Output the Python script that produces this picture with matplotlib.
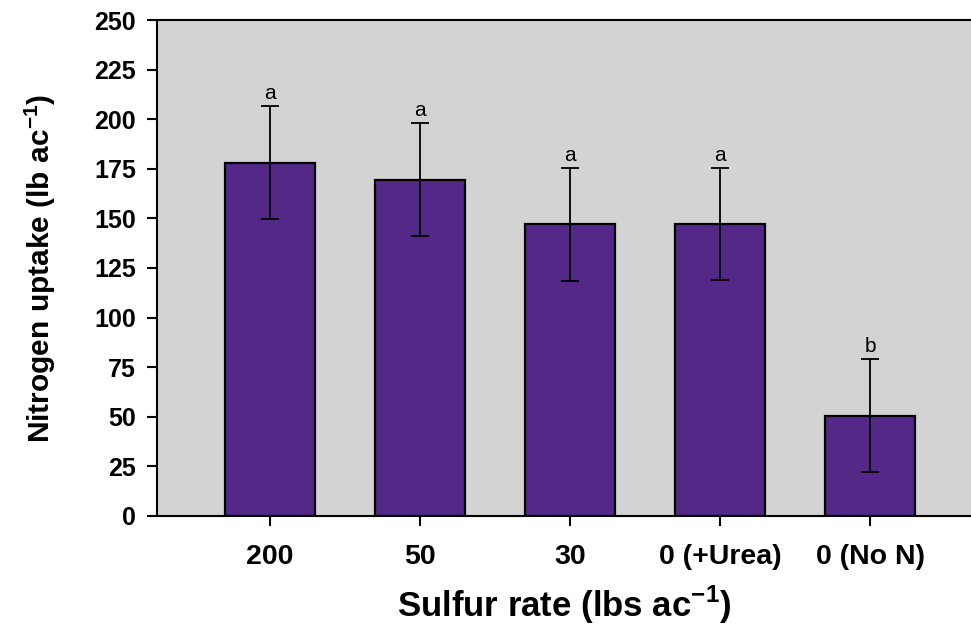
import matplotlib
matplotlib.use('Agg')
import matplotlib.pyplot as plt
import numpy as np

# data
categories = ['200', '50', '30', '0 (+Urea)', '0 (No N)']
uptake = [178, 169.5, 147, 147.2, 50.5]
errors = [28.5, 28.5, 28.5, 28.3, 28.5]
letters = ['a', 'a', 'a', 'a', 'b']

plt.rcParams['font.family'] = ['Liberation Sans', 'DejaVu Sans']
plt.rcParams['mathtext.fontset'] = 'custom'
plt.rcParams['mathtext.bf'] = 'Liberation Sans:bold'
plt.rcParams['mathtext.rm'] = 'Liberation Sans'

fig = plt.figure(figsize=(9.71, 6.29), dpi=100)
ax = fig.add_axes([0.1617, 0.1797, 0.8383, 0.7885])
ax.set_facecolor('#d3d3d3')

x = np.arange(len(categories))
ax.bar(x, uptake, 0.6, color='#532886', edgecolor='black', linewidth=1.6,
       zorder=2)
ax.errorbar(x, uptake, yerr=errors, fmt='none', ecolor='black',
            elinewidth=1.3, capsize=6.5, capthick=1.3, zorder=3)

for xi, v, e, lab in zip(x, uptake, errors, letters):
    ax.text(xi, v + e + 1.6, lab, ha='center', va='bottom', fontsize=15)

ax.set_xlim(-0.753, 4.673)
ax.set_ylim(0, 250)
ax.set_yticks(np.arange(0, 251, 25))
ax.set_xticks(x)
ax.set_xticklabels(categories, fontsize=20.5, fontweight='bold')
for lab in ax.get_yticklabels():
    lab.set_fontweight('bold')
    lab.set_fontsize(18)

ax.tick_params(axis='y', length=7, width=1.5, pad=8)
ax.tick_params(axis='x', length=7, width=1.5, pad=13)

ax.spines['right'].set_visible(False)
for s in ['left', 'top', 'bottom']:
    ax.spines[s].set_linewidth(1.5)

ax.set_ylabel('Nitrogen uptake (lb ac$^{\\mathbf{-1}}$)', fontsize=21.5,
              fontweight='bold', labelpad=26)
ax.set_xlabel('Sulfur rate (lbs ac$^{\\mathbf{-1}}$)', fontsize=25,
              fontweight='bold', labelpad=10)

fig.savefig('out.png', dpi=100)
